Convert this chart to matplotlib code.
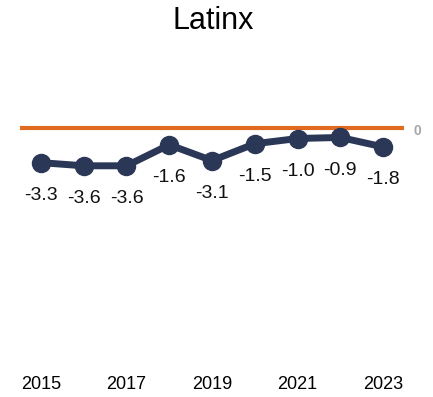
import matplotlib.pyplot as plt
import numpy as np

years = [2015, 2016, 2017, 2018, 2019, 2020, 2021, 2022, 2023]
gap = [-3.3, -3.6, -3.6, -1.6, -3.1, -1.5, -1.0, -0.9, -1.8]
tick_years = [2015, 2017, 2019, 2021, 2023]

navy = '#2b3756'
orange = '#e06a20'

plt.rcParams['font.family'] = ['Liberation Sans', 'DejaVu Sans']

W, H = 433, 397
fig = plt.figure(figsize=(W / 100, H / 100), dpi=100)

# axes box in pixels: left, top, right, bottom
left, top, right, bottom = 19.6, 65, 404.4, 359
ax = fig.add_axes([left / W, 1 - bottom / H, (right - left) / W, (bottom - top) / H])
ax.set_xlim(2014.5, 2023.5)
ax.set_ylim(-22, 6)

ax.axhline(0, color=orange, lw=3, zorder=1)
ax.plot(years, gap, color=navy, lw=5, marker='o', ms=13, zorder=3)

for x, y in zip(years, gap):
    ax.annotate(f'{y:.1f}', (x, y), xytext=(0, -33), textcoords='offset pixels',
                ha='center', va='center', fontsize=14, color='#111111')

ax.annotate('0', (1, 0), xycoords=('axes fraction', 'data'), xytext=(13, -3),
            textcoords='offset pixels', ha='center', va='center',
            fontsize=10, fontweight='bold', color='#a6a6a6')

ax.set_xticks(tick_years)
ax.set_xticklabels([str(y) for y in tick_years], fontsize=13)
ax.tick_params(axis='x', length=0, pad=12)
ax.set_yticks([])
for s in ax.spines.values():
    s.set_visible(False)

fig.text(213 / W, 1 - 21 / H, 'Latinx', ha='center', va='center', fontsize=22)

fig.savefig('out.png', dpi=100)
